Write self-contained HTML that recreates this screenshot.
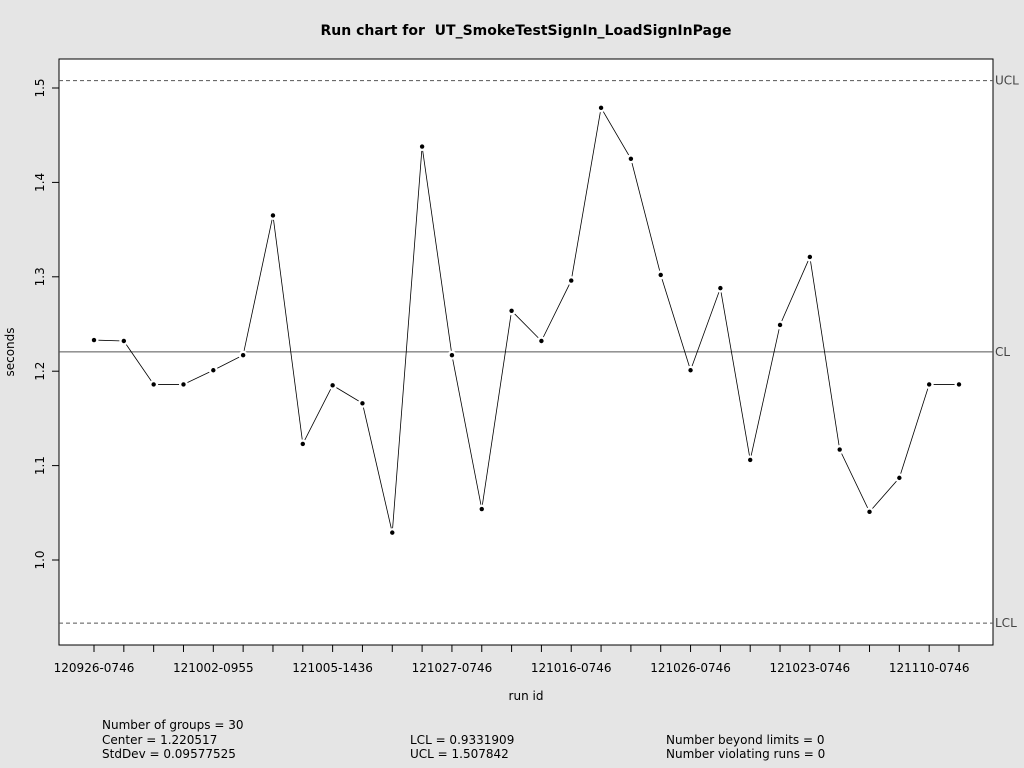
<!DOCTYPE html>
<html><head><meta charset="utf-8"><style>
body{margin:0;background:#e5e5e5;}
svg{display:block;font-family:"DejaVu Sans","Liberation Sans",sans-serif;}
</style></head><body>
<svg id="chart" width="1024" height="768" viewBox="0 0 1024 768">
<rect width="1024" height="768" fill="#e5e5e5"/>
<rect x="59" y="59" width="934" height="586" fill="#fff" stroke="#000" stroke-width="1"/>
<text x="526" y="35" text-anchor="middle" font-size="14" font-weight="bold" style="white-space:pre">Run chart for  UT_SmokeTestSignIn_LoadSignInPage</text>
<text x="526" y="700" text-anchor="middle" font-size="12">run id</text>
<text transform="translate(14,352) rotate(-90)" text-anchor="middle" font-size="12">seconds</text>
<g id="marks"></g>
<g font-size="12">
<text x="102" y="729">Number of groups = 30</text>
<text x="102" y="744">Center = 1.220517</text>
<text x="102" y="758">StdDev = 0.09577525</text>
<text x="410" y="744">LCL = 0.9331909</text>
<text x="410" y="758">UCL = 1.507842</text>
<text x="666" y="744">Number beyond limits = 0</text>
<text x="666" y="758">Number violating runs = 0</text>
</g>
</svg>
<script>
const values=[1.233,1.232,1.186,1.186,1.201,1.217,1.365,1.123,1.185,1.166,1.029,1.438,1.217,1.054,1.264,1.232,1.296,1.479,1.425,1.302,1.201,1.288,1.106,1.249,1.321,1.117,1.051,1.087,1.186,1.186];
const xLabels=["120926-0746","121002-0955","121005-1436","121027-0746","121016-0746","121026-0746","121023-0746","121110-0746"];
const yTicks=[1.0,1.1,1.2,1.3,1.4,1.5];
const center=1.220517, lcl=0.9331909, ucl=1.507842;
const NS="http://www.w3.org/2000/svg";
const g=document.getElementById('marks');
const n=values.length;
function xs(i){return 94+i*(959-94)/(n-1);}
function ys(v){return 560-(v-1.0)*944;}
function mk(t,a){const e=document.createElementNS(NS,t);for(const k in a)e.setAttribute(k,a[k]);g.appendChild(e);return e;}
[[ucl,'UCL','4,3'],[center,'CL',null],[lcl,'LCL','4,3']].forEach(([v,l,d])=>{
 const ln=mk('line',{x1:59,x2:993,y1:ys(v),y2:ys(v),stroke:'#555','stroke-width':1});
 if(d)ln.setAttribute('stroke-dasharray',d);
 
 
 const t=mk('text',{x:995,y:ys(v)+4,'font-size':12,fill:'#444'});t.textContent=l;
 
 
});
yTicks.forEach(v=>{
 const tk=mk('line',{x1:52,x2:59,y1:ys(v),y2:ys(v),stroke:'#000'});
 
 
 const t=mk('text',{transform:`translate(44,${ys(v)}) rotate(-90)`,'text-anchor':'middle','font-size':12});
 t.textContent=v.toFixed(1);
 
 
});
for(let i=0;i<n;i++){
 const tk=mk('line',{x1:xs(i),x2:xs(i),y1:645,y2:652,stroke:'#000'});
 
 
}
xLabels.forEach((l,k)=>{
 const t=mk('text',{x:xs(k*4),y:672,'text-anchor':'middle','font-size':12});t.textContent=l;
 
 
});
const p=mk('polyline',{points:values.map((v,i)=>xs(i)+','+ys(v)).join(' '),fill:'none',stroke:'#000','stroke-width':0.8});


values.forEach((v,i)=>{
 const w=mk('circle',{cx:xs(i),cy:ys(v),r:4.5,fill:'#fff'});
 
 
 const c=mk('circle',{cx:xs(i),cy:ys(v),r:2.2,fill:'#000'});
 
 
});
</script>
</body></html>
